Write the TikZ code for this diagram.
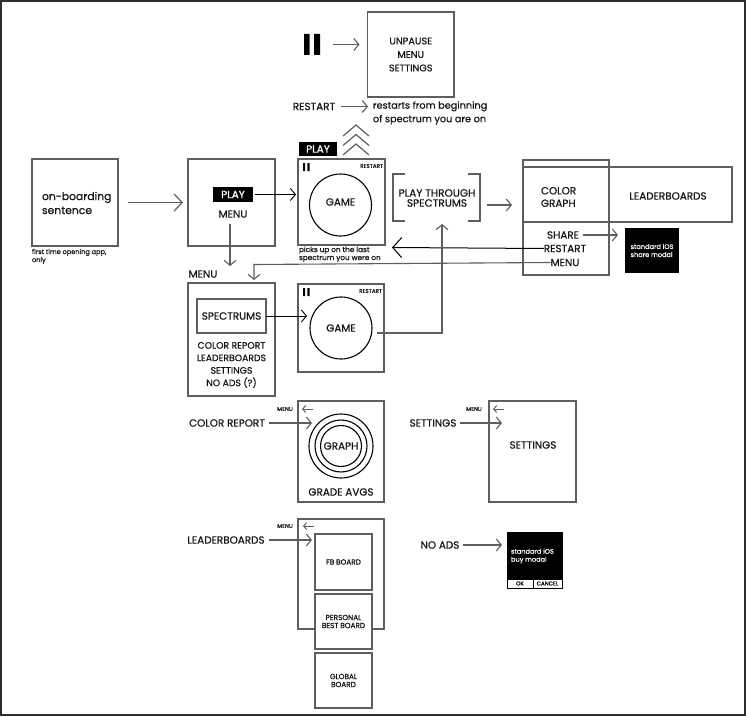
\documentclass[tikz,border=0pt]{standalone}
\usepackage{fontspec}
\setmainfont{Poppins}[FakeBold=0.6]
\usetikzlibrary{arrows.meta}
\definecolor{ln}{HTML}{5E5E5E}
\definecolor{fr}{HTML}{2E2E2E}
\definecolor{tx}{HTML}{151515}
\newcommand{\fL}{\fontsize{10.4bp}{12.5bp}\selectfont}
\newcommand{\fM}{\fontsize{9.7bp}{13.5bp}\selectfont}
\newcommand{\fS}{\fontsize{7.3bp}{8bp}\selectfont}
\newcommand{\fXS}{\fontsize{6.6bp}{8bp}\selectfont}
\newcommand{\fT}{\fontsize{5.6bp}{6.5bp}\selectfont}
\begin{document}
\begin{tikzpicture}[x=1bp,y=-1bp,
  box/.style={draw=ln, line width=1.3bp, inner sep=0pt, outer sep=0pt, fill=white},
  obox/.style={draw=ln, line width=1.3bp, inner sep=0pt, outer sep=0pt},
  blk/.style={fill=black, inner sep=0pt, outer sep=0pt, text=white},
  lbl/.style={inner sep=0pt, outer sep=0pt, text=tx, font=\fL, align=center},
  arr/.style={draw=ln, line width=1.1bp, -{Straight Barb[length=5bp,width=12bp,line width=1.1bp]}},
  bigarr/.style={draw=ln, line width=1.2bp, -{Straight Barb[length=8bp,width=17bp,line width=1.2bp]}},
  smarr/.style={draw=ln, line width=1bp, -{Straight Barb[length=3bp,width=7bp,line width=1bp]}},
  blkarr/.style={draw=black, line width=0.9bp, -{Straight Barb[length=5bp,width=12bp,line width=0.9bp]}},
  ring/.style={circle, draw=black, line width=1.1bp, inner sep=0pt, outer sep=0pt}]
\useasboundingbox (0,0) rectangle (746,717);
\draw[fr, line width=2bp] (1,1) rectangle (744.5,714.5);

% ---------- top: pause menu ----------
\node[inner sep=0pt, minimum width=16bp, minimum height=21bp] (pause) at (312,44.5) {};
\fill[black] (304,34) rectangle (309.5,55) (314,34) rectangle (320,55);
\node[obox, minimum width=86.5bp, minimum height=85bp] (unp) at (410.75,54.5) {};
\node[lbl, font=\fM] (unptx) at (unp.center) {UNPAUSE\\MENU\\SETTINGS};
\draw[arr] ([xshift=13bp]pause.east) -- ([xshift=-8bp]pause.east -| unp.west);

\node[lbl] (rst) at (314,106.5) {RESTART};
\node[lbl, font=\fM, align=left, anchor=west] (rdesc) at (373,113) {restarts from beginning\\of spectrum you are on};
\draw[arr] ([xshift=6bp]rst.east) -- ([xshift=-5bp]rst.east -| rdesc.west);

% chevrons
\node[inner sep=0pt, minimum width=26bp, minimum height=30bp] (chev) at (356,140) {};
\foreach \t in {125,134.5,144}{
  \draw[ln, line width=1.2bp] (343,\t+11) -- (356,\t) -- (369,\t+11);
}

% ---------- row 1 ----------
\node[obox, minimum width=86bp, minimum height=87bp] (onb) at (75,202.5) {};
\node[lbl, font=\fontsize{10.8bp}{14bp}\selectfont, align=left, anchor=west] (onbtx) at (42,203) {on-boarding\\sentence};
\node[lbl, font=\fXS, align=left, anchor=north west] (onbcap) at (32,249) {first time opening app,\\only};

\node[obox, minimum width=87bp, minimum height=87bp] (mnu) at (231.5,202.5) {};
\node[blk, minimum width=40bp, minimum height=15bp, font=\fL] (play2) at (233,194.5) {PLAY};
\node[lbl] (mtx) at (233,214) {MENU};
\draw[bigarr] ([xshift=10bp]onb.east) -- ([xshift=-5bp]onb.east -| mnu.west);

\node[blk, minimum width=38bp, minimum height=14bp, font=\fL] (play1) at (318,149) {PLAY};
\node[obox, minimum width=87bp, minimum height=86bp] (gm1) at (341.5,202) {};
\fill[black] (303,163) rectangle (305.2,171) (307.3,163) rectangle (309.5,171);
\node[lbl, font=\fT, anchor=east] (rs1) at (383,166) {RESTART};
\node[ring, minimum size=62bp] (c1) at (340.5,205) {};
\node[lbl] (g1) at (340.5,202) {GAME};
\node[lbl, font=\fS, align=left, anchor=north west] (gm1cap) at (299,246.5) {picks up on the last\\spectrum you were on};
\draw[blkarr] ([xshift=2bp]play2.east) -- ([xshift=-2bp]play2.east -| gm1.west);

% play through spectrums
\node[inner sep=0pt, outer sep=0pt, minimum width=87bp, minimum height=47bp] (ptr) at (436.5,197.5) {};
\node[lbl, font=\fontsize{10.5bp}{10bp}\selectfont] (ptrtx) at (437,198) {PLAY THROUGH\\SPECTRUMS};
\draw[ln, line width=1.2bp] ([xshift=12bp]ptr.north west) -- (ptr.north west) -- (ptr.south west) -- ([xshift=12bp]ptr.south west);
\draw[ln, line width=1.2bp] ([xshift=-12bp]ptr.north east) -- (ptr.north east) -- (ptr.south east) -- ([xshift=-12bp]ptr.south east);

% right panel
\node[obox, minimum width=86bp, minimum height=115bp] (tall) at (566,217.5) {};
\node[obox, minimum width=209bp, minimum height=55bp] (wide) at (627.5,194.5) {};
\node[lbl, align=left, anchor=west] (cg) at (541,197) {COLOR\\GRAPH};
\node[lbl] (lb) at (668,196) {LEADERBOARDS};
\node[lbl] (rsh) at (563,235) {SHARE};
\node[lbl] (rrs) at (565,248.5) {RESTART};
\node[lbl] (rmn) at (565,262.5) {MENU};
\node[blk, minimum width=54bp, minimum height=45bp, font=\fXS, align=left] (shm) at (652,250.5) {standard iOS\\share modal};
\coordinate (ptrout) at (487,205);
\coordinate (ptrend) at (512,205);
\draw[arr] (ptrout) -- (ptrend);
\draw[arr] ([xshift=4bp]rsh.east) -- ([xshift=-7bp]rsh.east -| shm.west);

% RESTART back to play-through
\coordinate (rstip) at (392,247.5);
\draw[draw=black, line width=1bp, -{Straight Barb[length=9bp,width=20bp,line width=1bp]}] (rrs.west) -- (rstip);

% MENU back to menu box
\coordinate (mcorner) at (254,264.5);
\coordinate (mtip) at (254,280);
\draw[arr] (rmn.west) -- (mcorner) -- (mtip);

% menu down arrow
\coordinate (md0) at (230,224);
\coordinate (md1) at (230,266);
\draw[arr] (md0) -- (md1);
\node[lbl] (menulbl) at (203,274) {MENU};

% ---------- row 2 ----------
\node[obox, minimum width=87bp, minimum height=113bp] (mn2) at (231.5,339.5) {};
\node[obox, minimum width=69bp, minimum height=34bp] (spc) at (231.5,316) {};
\node[lbl] (spctx) at (spc.center) {SPECTRUMS};
\node[lbl, font=\fontsize{9.3bp}{12.5bp}\selectfont] (mn2tx) at (231.5,365) {COLOR REPORT\\LEADERBOARDS\\SETTINGS\\NO ADS (?)};

\node[obox, minimum width=86bp, minimum height=88bp] (gm2) at (341,328) {};
\fill[black] (303,288) rectangle (305.2,296) (307.3,288) rectangle (309.5,296);
\node[lbl, font=\fT, anchor=east] (rs2) at (382,291) {RESTART};
\node[ring, minimum size=62bp] (c2) at (341,328) {};
\node[lbl] (g2) at (341,328) {GAME};
\draw[blkarr] (spc.east) -- ([xshift=-3bp]spc.east -| c2.west);

\coordinate (gout) at (377,333);
\coordinate (gcorner) at (442,333);
\coordinate (gtip) at (442,224);
\draw[arr] (gout) -- (gcorner) -- (gtip);

% ---------- color report ----------
\node[obox, minimum width=86bp, minimum height=101bp] (crb) at (341,451.5) {};
\node[lbl, font=\fT] (crm) at (285,409) {MENU};
\coordinate (cra0) at (313,409);
\coordinate (cra1) at (302,409);
\draw[smarr] (cra0) -- (cra1);
\node[lbl] (crl) at (227,423) {COLOR REPORT};
\node[ring, minimum size=64bp] (c3a) at (341,446) {};
\node[ring, minimum size=52bp] (c3b) at (341,446) {};
\node[ring, minimum size=41bp] (c3c) at (341,446) {};
\node[lbl] (gr) at (341,446) {GRAPH};
\node[lbl] (ga) at (341,492) {GRADE AVGS};
\draw[arr] ([xshift=4bp]crl.east) -- ([xshift=3bp]crl.east -| c3a.west);

% ---------- settings ----------
\node[obox, minimum width=87bp, minimum height=101bp] (stb) at (532.5,451.5) {};
\node[lbl, font=\fT] (stm) at (474,409) {MENU};
\coordinate (sta0) at (504,409);
\coordinate (sta1) at (493,409);
\draw[smarr] (sta0) -- (sta1);
\node[lbl] (stl) at (433,423) {SETTINGS};
\draw[arr] ([xshift=4bp]stl.east) -- ([xshift=13bp]stl.east -| stb.west);
\node[lbl] (sttx) at (533,445) {SETTINGS};

% ---------- leaderboards ----------
\node[obox, minimum width=86bp, minimum height=110bp] (ldb) at (341,574) {};
\node[lbl, font=\fT] (ldm) at (285,526) {MENU};
\coordinate (lda0) at (314,526);
\coordinate (lda1) at (303,526);
\draw[smarr] (lda0) -- (lda1);
\node[lbl] (ldl) at (226,540) {LEADERBOARDS};
\node[box, minimum width=57bp, minimum height=56bp, font=\fS, text=tx] (fb) at (343.5,562) {FB BOARD};
\node[box, minimum width=57bp, minimum height=55bp, font=\fS, text=tx, align=center] (pb) at (343.5,621.5) {PERSONAL\\BEST BOARD};
\node[box, minimum width=57bp, minimum height=55bp, font=\fS, text=tx, align=center] (gb) at (343.5,680.5) {GLOBAL\\BOARD};
\draw[arr] ([xshift=4bp]ldl.east) -- ([xshift=-3bp]ldl.east -| fb.west);

% ---------- no ads ----------
\node[lbl] (nal) at (440,545) {NO ADS};
\node[blk, draw=black, line width=1bp, minimum width=55bp, minimum height=56bp] (bym) at (534.5,560) {};
\node[lbl, text=white, font=\fXS, align=left, anchor=west] (bymtx) at (511,556) {standard iOS\\buy modal};
\node[draw=black, fill=white, line width=0.8bp, inner sep=0pt, minimum width=26bp, minimum height=9bp, font=\fT] (okb) at (520,583.5) {OK};
\node[draw=black, fill=white, line width=0.8bp, inner sep=0pt, minimum width=29bp, minimum height=9bp, font=\fT] (cnb) at (547.5,583.5) {CANCEL};
\draw[arr] ([xshift=4bp]nal.east) -- ([xshift=-5bp]nal.east -| bym.west);
\end{tikzpicture}
\end{document}
